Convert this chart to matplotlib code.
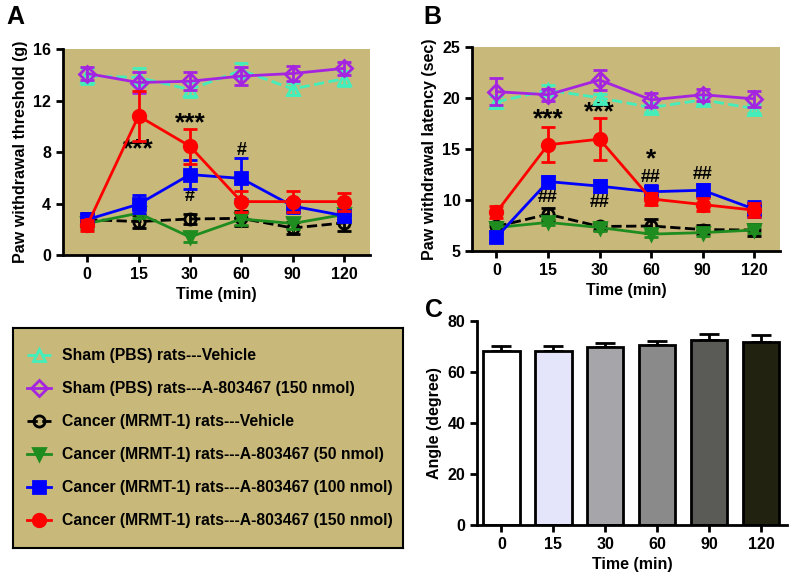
import matplotlib.pyplot as plt
from matplotlib.lines import Line2D

plt.rcParams['font.family'] = ['Liberation Sans', 'DejaVu Sans']
plt.rcParams['font.weight'] = 'bold'
plt.rcParams['axes.labelweight'] = 'bold'

# ---- data ----
times = ['0', '15', '30', '60', '90', '120']
labels = ['Sham (PBS) rats---Vehicle',
          'Sham (PBS) rats---A-803467 (150 nmol)',
          'Cancer (MRMT-1) rats---Vehicle',
          'Cancer (MRMT-1) rats---A-803467 (50 nmol)',
          'Cancer (MRMT-1) rats---A-803467 (100 nmol)',
          'Cancer (MRMT-1) rats---A-803467 (150 nmol)']

# panel A: paw withdrawal threshold (g)
a_sham_veh = [13.9, 13.8, 12.85, 14.35, 12.9, 13.7]
a_sham_veh_err = [0.6, 0.7, 0.6, 0.6, 0.5, 0.6]
a_sham_drug = [14.1, 13.4, 13.5, 13.9, 14.1, 14.5]
a_sham_drug_err = [0.5, 0.8, 0.7, 0.7, 0.6, 0.5]
a_can_veh = [2.75, 2.6, 2.8, 2.85, 2.1, 2.5]
a_can_veh_err = [0.5, 0.5, 0.4, 0.6, 0.5, 0.6]
a_can_50 = [2.45, 3.25, 1.4, 2.8, 2.45, 3.15]
a_can_50_err = [0.4, 0.4, 0.4, 0.5, 0.4, 0.4]
a_can_100 = [2.75, 3.95, 6.25, 5.95, 3.8, 3.05]
a_can_100_err = [0.5, 0.7, 1.1, 1.6, 0.5, 0.4]
a_can_150 = [2.3, 10.8, 8.45, 4.15, 4.15, 4.15]
a_can_150_err = [0.4, 1.95, 1.35, 0.8, 0.8, 0.7]

# panel B: paw withdrawal latency (sec)
b_sham_veh = [19.6, 20.75, 20.0, 19.05, 19.8, 18.95]
b_sham_veh_err = [0.6, 0.5, 0.4, 0.4, 0.4, 0.4]
b_sham_drug = [20.6, 20.3, 21.75, 19.8, 20.3, 19.9]
b_sham_drug_err = [1.3, 0.6, 1.0, 0.7, 0.6, 0.8]
b_can_veh = [7.4, 8.6, 7.4, 7.45, 7.1, 7.05]
b_can_veh_err = [0.4, 0.6, 0.3, 0.7, 0.4, 0.6]
b_can_50 = [7.3, 7.8, 7.3, 6.65, 6.8, 7.05]
b_can_50_err = [0.3, 0.3, 0.3, 0.3, 0.3, 0.3]
b_can_100 = [6.35, 11.8, 11.35, 10.8, 10.95, 9.1]
b_can_100_err = [0.5, 0.5, 0.6, 0.7, 0.6, 0.8]
b_can_150 = [8.8, 15.4, 15.95, 10.1, 9.55, 9.0]
b_can_150_err = [0.6, 1.7, 2.05, 0.6, 0.6, 0.7]

# panel C: angle (degree)
c_angle = [68.1, 68.1, 69.6, 70.5, 72.4, 71.8]
c_angle_err = [2.0, 2.0, 1.8, 1.7, 2.3, 2.5]

# ---- styles ----
bg = '#c8b87a'
colors = ['#44eebb', '#a424e0', 'black', '#1f8c1f', '#0000ff', '#ff0000']
markers = ['^', 'D', 'o', 'v', 's', 'o']
filled = [False, False, False, True, True, True]
dashes = ['--', '-', '--', '-', '-', '-']
msizes = [8, 8, 8, 9, 9, 9]
bar_colors = ['white', '#e4e4fa', '#a6a6aa', '#8a8a8a', '#5a5a56', '#222210']

fig = plt.figure(figsize=(7.91, 5.77), dpi=100)
x = list(range(len(times)))


def style_axes(ax):
    for s in ['top', 'right']:
        ax.spines[s].set_visible(False)
    for s in ['left', 'bottom']:
        ax.spines[s].set_linewidth(2)
    ax.tick_params(width=2, length=5, labelsize=11.5)
    ax.set_xticks(x)
    ax.set_xticklabels(times)
    ax.set_xlim(-0.47, 5.5)


def line_panel(ax, series, errs):
    for i in range(6):
        ax.errorbar(x, series[i], yerr=errs[i], color=colors[i], ls=dashes[i],
                    lw=2, marker=markers[i], ms=msizes[i],
                    mfc=colors[i] if filled[i] else 'none', mec=colors[i], mew=2,
                    capsize=5, capthick=2, elinewidth=2, zorder=3 + i)
    ax.set_facecolor(bg)
    style_axes(ax)


# A
axA = fig.add_axes([0.0796, 0.558, 0.388, 0.357])
line_panel(axA, [a_sham_veh, a_sham_drug, a_can_veh, a_can_50, a_can_100, a_can_150],
           [a_sham_veh_err, a_sham_drug_err, a_can_veh_err, a_can_50_err, a_can_100_err, a_can_150_err])
axA.set_ylim(0, 16)
axA.set_yticks([0, 4, 8, 12, 16])
axA.set_ylabel('Paw withdrawal threshold (g)', fontsize=11.5)
axA.set_xlabel('Time (min)', fontsize=11.5)
axA.text(1, 8.2, '***', ha='center', va='center', fontsize=19)
axA.text(2, 10.25, '***', ha='center', va='center', fontsize=19)
axA.text(2, 4.55, '#', ha='center', va='center', fontsize=13)
axA.text(3, 8.1, '#', ha='center', va='center', fontsize=13)

# B
axB = fig.add_axes([0.597, 0.565, 0.389, 0.354])
line_panel(axB, [b_sham_veh, b_sham_drug, b_can_veh, b_can_50, b_can_100, b_can_150],
           [b_sham_veh_err, b_sham_drug_err, b_can_veh_err, b_can_50_err, b_can_100_err, b_can_150_err])
axB.set_ylim(5, 25)
axB.set_yticks([5, 10, 15, 20, 25])
axB.set_ylabel('Paw withdrawal latency (sec)', fontsize=11.5)
axB.set_xlabel('Time (min)', fontsize=11.5)
axB.text(1, 17.9, '***', ha='center', va='center', fontsize=19)
axB.text(2, 18.6, '***', ha='center', va='center', fontsize=19)
axB.text(1, 10.25, '##', ha='center', va='center', fontsize=13)
axB.text(2, 9.7, '##', ha='center', va='center', fontsize=13)
axB.text(3, 14.0, '*', ha='center', va='center', fontsize=19)
axB.text(3, 12.2, '##', ha='center', va='center', fontsize=13)
axB.text(4, 12.45, '##', ha='center', va='center', fontsize=13)

# C
axC = fig.add_axes([0.603, 0.090, 0.392, 0.354])
axC.bar(x, c_angle, width=0.7, color=bar_colors, edgecolor='black', lw=2, zorder=2)
axC.errorbar(x, c_angle, yerr=[[0] * 6, c_angle_err], fmt='none', ecolor='black',
             capsize=7, capthick=2, elinewidth=2, zorder=1)
style_axes(axC)
axC.set_ylim(0, 80)
axC.set_yticks([0, 20, 40, 60, 80])
axC.set_ylabel('Angle (degree)', fontsize=11.5)
axC.set_xlabel('Time (min)', fontsize=11.5)

# legend box
axL = fig.add_axes([0.0164, 0.050, 0.493, 0.381])
axL.set_facecolor(bg)
axL.set_xticks([])
axL.set_yticks([])
for s in axL.spines.values():
    s.set_linewidth(1.5)
handles = [Line2D([], [], color=colors[i], ls=dashes[i], lw=2, marker=markers[i], ms=msizes[i],
                  mfc=colors[i] if filled[i] else 'none', mec=colors[i], mew=2)
           for i in range(6)]
axL.legend(handles, labels, loc='center left', bbox_to_anchor=(0.0, 0.5), frameon=False,
           fontsize=11.3, labelspacing=1.15, handlelength=1.5, handletextpad=0.7)

fig.text(0.008, 0.992, 'A', fontsize=18, fontweight='bold', va='top')
fig.text(0.535, 0.992, 'B', fontsize=18, fontweight='bold', va='top')
fig.text(0.537, 0.483, 'C', fontsize=18, fontweight='bold', va='top')

fig.savefig('out.png', dpi=100)
